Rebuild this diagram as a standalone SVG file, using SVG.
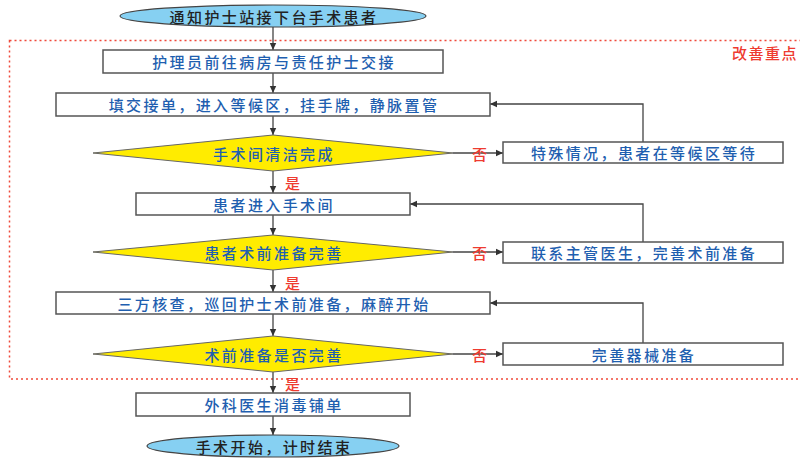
<svg xmlns="http://www.w3.org/2000/svg" width="800" height="459" viewBox="0 0 800 459">
<defs>
<marker id="ah" markerWidth="8" markerHeight="8" refX="7" refY="4" orient="auto" markerUnits="userSpaceOnUse">
<path d="M0,0.8 L7,4 L0,7.2 Z" fill="#333"/>
</marker>
<style>
.box{fill:#fff;stroke:#555;stroke-width:1.5}
.dia{fill:#ffec00;stroke:#666;stroke-width:1}
.ell{fill:#86d0f2;stroke:#444;stroke-width:1.2}
.t{font-family:"Noto Sans CJK SC","Noto Sans",sans-serif;font-size:15px;font-weight:500;letter-spacing:2.4px;fill:#1f5fb0;text-anchor:middle;dominant-baseline:central}
.te{fill:#222}
.r{font-family:"Noto Sans CJK SC","Noto Sans",sans-serif;font-size:15px;font-weight:500;fill:#ee3b30;dominant-baseline:central}
.c{fill:none;stroke:#444;stroke-width:1.3}
</style>
</defs>
<rect x="9.5" y="40.5" width="800" height="338.5" fill="none" stroke="#f0493a" stroke-width="1.5" stroke-dasharray="2,3"/>
<text class="r" x="732" y="52" style="letter-spacing:1.5px">改善重点</text>

<g id="connectors">
<line class="c" x1="273" y1="27" x2="273" y2="50" marker-end="url(#ah)"/>
<line class="c" x1="273" y1="73" x2="273" y2="93" marker-end="url(#ah)"/>
<line class="c" x1="273" y1="116" x2="273" y2="135" marker-end="url(#ah)"/>
<line class="c" x1="273" y1="171" x2="273" y2="193" marker-end="url(#ah)"/>
<line class="c" x1="273" y1="215" x2="273" y2="235" marker-end="url(#ah)"/>
<line class="c" x1="273" y1="270" x2="273" y2="292" marker-end="url(#ah)"/>
<line class="c" x1="273" y1="314" x2="273" y2="336" marker-end="url(#ah)"/>
<line class="c" x1="273" y1="372" x2="273" y2="393" marker-end="url(#ah)"/>
<line class="c" x1="273" y1="416" x2="273" y2="435" marker-end="url(#ah)"/>
<line class="c" x1="453" y1="153" x2="503" y2="153" marker-end="url(#ah)"/>
<line class="c" x1="453" y1="252" x2="503" y2="252" marker-end="url(#ah)"/>
<line class="c" x1="453" y1="354" x2="503" y2="354" marker-end="url(#ah)"/>
<polyline class="c" points="643,142 643,104 490,104" marker-end="url(#ah)"/>
<polyline class="c" points="643,242 643,204 410,204" marker-end="url(#ah)"/>
<polyline class="c" points="643,343 643,303 490,303" marker-end="url(#ah)"/>
<text class="r" x="472" y="153">否</text>
<text class="r" x="472" y="252">否</text>
<text class="r" x="472" y="354">否</text>
<text class="r" x="285" y="182">是</text>
<text class="r" x="285" y="282">是</text>
<text class="r" x="285" y="383">是</text>
</g>

<g id="start">
<ellipse class="ell" cx="273" cy="16" rx="153" ry="11"/>
<text class="t te" x="274" y="16">通知护士站接下台手术患者</text>
</g>
<g id="n1">
<rect class="box" x="103" y="50" width="340" height="23"/>
<text class="t" x="274" y="61.5">护理员前往病房与责任护士交接</text>
</g>
<g id="n2">
<rect class="box" x="56" y="93" width="434" height="23"/>
<text class="t" x="274" y="104.5">填交接单，进入等候区，挂手牌，静脉置管</text>
</g>
<g id="d1">
<polygon class="dia" points="273,135 453,153 273,171 93,153"/>
<text class="t" x="274" y="153">手术间清洁完成</text>
</g>
<g id="s1">
<rect class="box" x="503" y="142" width="280" height="21"/>
<text class="t" x="644" y="152.5">特殊情况，患者在等候区等待</text>
</g>
<g id="n3">
<rect class="box" x="136" y="193" width="274" height="22"/>
<text class="t" x="274" y="204">患者进入手术间</text>
</g>
<g id="d2">
<polygon class="dia" points="273,235 453,252 273,270 93,252"/>
<text class="t" x="274" y="252">患者术前准备完善</text>
</g>
<g id="s2">
<rect class="box" x="503" y="242" width="280" height="21"/>
<text class="t" x="644" y="252.5">联系主管医生，完善术前准备</text>
</g>
<g id="n4">
<rect class="box" x="56" y="292" width="434" height="22"/>
<text class="t" x="274" y="303">三方核查，巡回护士术前准备，麻醉开始</text>
</g>
<g id="d3">
<polygon class="dia" points="273,336 453,354 273,372 93,354"/>
<text class="t" x="274" y="354">术前准备是否完善</text>
</g>
<g id="s3">
<rect class="box" x="503" y="343" width="280" height="22"/>
<text class="t" x="644" y="354">完善器械准备</text>
</g>
<g id="n5">
<rect class="box" x="136" y="393" width="274" height="23"/>
<text class="t" x="274" y="404.5">外科医生消毒铺单</text>
</g>
<g id="end">
<ellipse class="ell" cx="273" cy="446" rx="126" ry="11"/>
<text class="t te" x="274" y="446">手术开始，计时结束</text>
</g>
</svg>
